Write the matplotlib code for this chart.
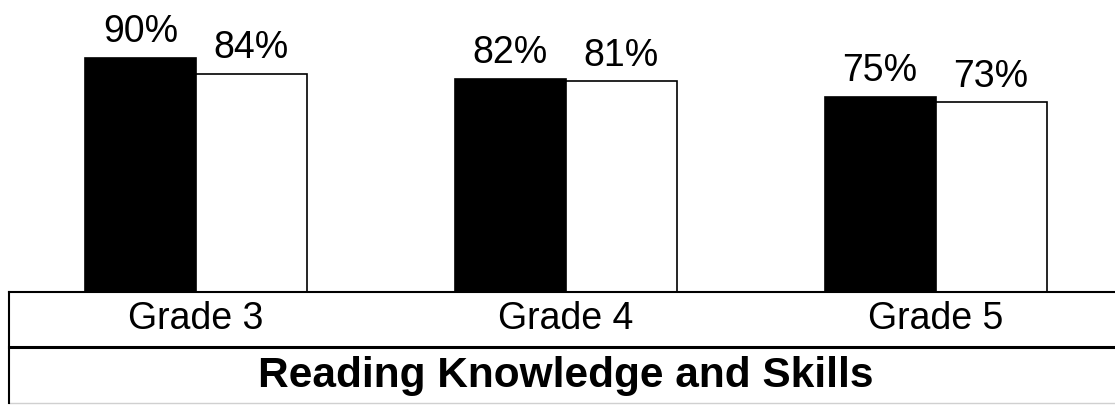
import numpy as np
import matplotlib
matplotlib.use("Agg")
import matplotlib.pyplot as plt
from matplotlib.lines import Line2D

# data
grades = ["Grade 3", "Grade 4", "Grade 5"]
series_a = [90, 82, 75]   # black bars
series_b = [84, 81, 73]   # white bars
title = "Reading Knowledge and Skills"

plt.rcParams['font.family'] = ['Liberation Sans', 'DejaVu Sans']

W, H = 1115, 406
fig = plt.figure(figsize=(W / 100, H / 100), dpi=100)

base_px = 293
ax = fig.add_axes([9 / W, (H - base_px) / H, 1 - 9 / W, base_px / H])
x = np.arange(len(grades))
width = 0.3
bars_a = ax.bar(x - width / 2, series_a, width, color="black", edgecolor="black", linewidth=1.2)
bars_b = ax.bar(x + width / 2, series_b, width, color="white", edgecolor="black", linewidth=1.2)

for bars in (bars_a, bars_b):
    for b in bars:
        ax.annotate(f"{b.get_height():.0f}%", (b.get_x() + b.get_width() / 2, b.get_height()),
                    xytext=(0, 12), textcoords="offset points", ha="center", va="baseline", fontsize=27)

ax.set_xlim(-0.505, 2.485)
ax.set_ylim(0, base_px / 2.6)
ax.set_xticks(x, grades, fontsize=27)
ax.tick_params(axis="x", length=0, pad=6)
ax.set_yticks([])
for s in ("left", "right", "top"):
    ax.spines[s].set_visible(False)
ax.spines["bottom"].set_linewidth(1.5)

# table lines below the plot
def hline(y, lw, color="black"):
    fig.add_artist(Line2D([9 / W, 1], [1 - y / H, 1 - y / H], color=color, linewidth=lw))

hline(347.5, 2.2)
hline(403.5, 1.0, color="#d0d0d0")
fig.add_artist(Line2D([9 / W, 9 / W], [1 - 293 / H, 1 - 404 / H], color="black", linewidth=1.5))

fig.text(566 / W, 1 - 387 / H, title, ha="center", va="baseline", fontsize=30.5, fontweight="bold")

fig.savefig("out.png", dpi=100)
